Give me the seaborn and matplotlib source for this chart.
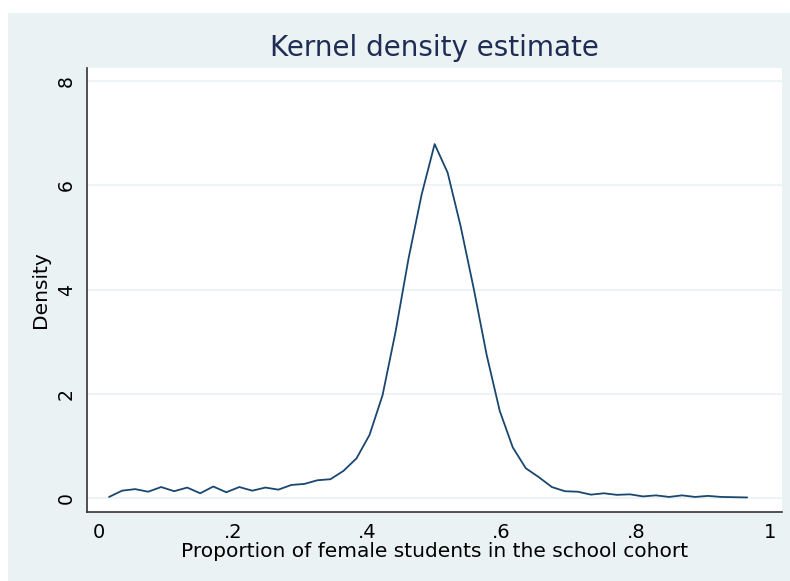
import numpy as np
import pandas as pd
import matplotlib
matplotlib.use("Agg")
import matplotlib.pyplot as plt
import seaborn as sns
from matplotlib.patches import Rectangle

# kernel density evaluated at 50 points
grid_start = 0.015
grid_step = 0.01941
density = [
    0.02, 0.14, 0.17, 0.12, 0.21, 0.13, 0.20, 0.09, 0.22, 0.11,
    0.21, 0.14, 0.20, 0.16, 0.25, 0.27, 0.34, 0.36, 0.52, 0.76,
    1.21, 1.97, 3.19, 4.60, 5.82, 6.79, 6.24, 5.21, 4.02, 2.74,
    1.67, 0.97, 0.57, 0.40, 0.21, 0.13, 0.12, 0.064, 0.09, 0.06,
    0.07, 0.03, 0.05, 0.02, 0.05, 0.02, 0.04, 0.02, 0.015, 0.01,
]
x_ticks = [0, 0.2, 0.4, 0.6, 0.8, 1]
x_labels = ["0", ".2", ".4", ".6", ".8", "1"]
y_ticks = [0, 2, 4, 6, 8]
y_labels = ["0", "2", "4", "6", "8"]

df = pd.DataFrame({
    "x": [grid_start + i * grid_step for i in range(len(density))],
    "density": density,
})

sns.set_style("white")
plt.rcParams["font.family"] = ["DejaVu Sans"]

bg = "#EAF2F3"
navy = "#1A476F"

fig = plt.figure(figsize=(7.9, 5.81), dpi=100)
fig.patch.set_facecolor("white")
fig.patches.append(Rectangle((8 / 790, 0), 1 - 8 / 790, (581 - 13) / 581,
                             transform=fig.transFigure, facecolor=bg,
                             edgecolor="none", zorder=-10))

ax = fig.add_axes([87 / 790, (581 - 512) / 581, 695 / 790, 444 / 581])
ax.set_facecolor("white")

sns.lineplot(data=df, x="x", y="density", ax=ax, color=navy, linewidth=1.3)

ax.set_xlim(-0.0179, 1.018)
ax.set_ylim(-0.269, 8.25)
ax.set_xticks(x_ticks)
ax.set_xticklabels(x_labels)
ax.set_yticks(y_ticks)
ax.set_yticklabels(y_labels, rotation=90, va="center")
ax.tick_params(axis="both", direction="out", length=6, width=1,
               color="#333333", labelcolor="black", pad=2)
ax.tick_params(axis="x", labelsize=14)
ax.tick_params(axis="y", labelsize=13.5)
ax.grid(axis="y", color=bg, linewidth=1.2)
ax.set_axisbelow(True)

for side in ["top", "right"]:
    ax.spines[side].set_visible(False)
for side in ["left", "bottom"]:
    ax.spines[side].set_color("#333333")
    ax.spines[side].set_linewidth(1.2)

ax.set_xlabel("Proportion of female students in the school cohort",
              fontsize=14.5, labelpad=0, color="black")
ax.set_ylabel("Density", fontsize=14.5, labelpad=5, color="black")
ax.set_title("Kernel density estimate", fontsize=20, color="#1F2D55", pad=9)

fig.savefig("out.png", dpi=100)
